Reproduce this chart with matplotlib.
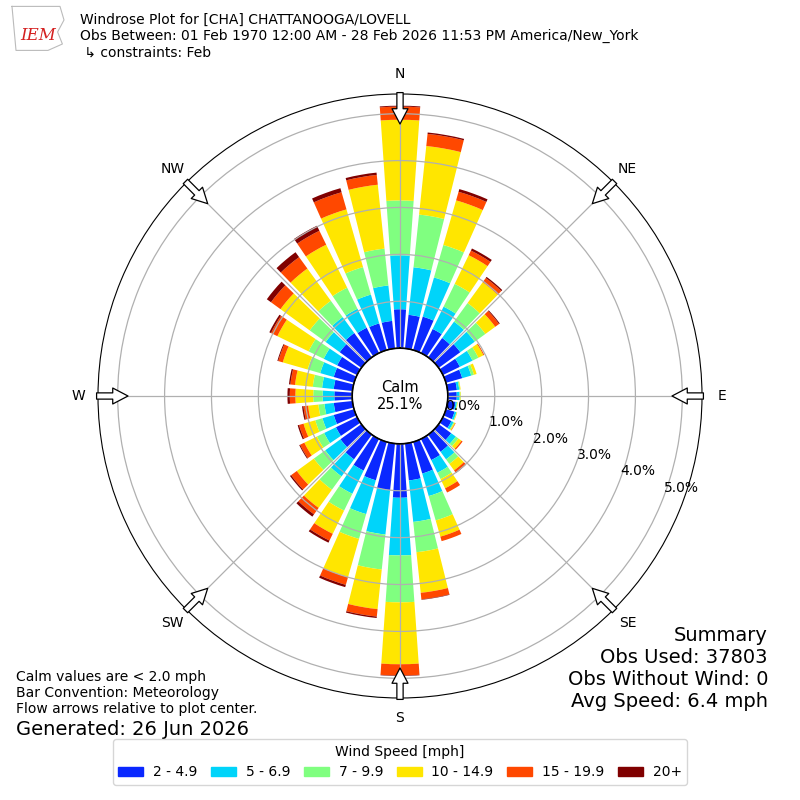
import numpy as np
import matplotlib
matplotlib.use("Agg")
import matplotlib.pyplot as plt
from matplotlib.patches import Patch

# ------------------ DATA (percent of obs, per 10 deg direction) ------------------
directions = np.arange(0, 360, 10)
speed_bins = ['2 - 4.9', '5 - 6.9', '7 - 9.9', '10 - 14.9', '15 - 19.9', '20+']
bin_colors = ['#0a28ff', '#00d4fa', '#80ff80', '#ffe600', '#ff4800', '#800000']

s_2_5 = [0.83, 0.72, 0.74, 0.57, 0.51, 0.57, 0.40, 0.36, 0.20, 0.19, 0.17, 0.19,
         0.20, 0.33, 0.45, 0.50, 0.70, 0.79, 1.15, 1.00, 0.85, 0.75, 0.65, 0.55,
         0.50, 0.45, 0.40, 0.38, 0.40, 0.45, 0.47, 0.57, 0.64, 0.60, 0.59, 0.59]
s_5_7 = [1.15, 1.02, 0.87, 0.53, 0.43, 0.38, 0.30, 0.20, 0.05, 0.06, 0.03, 0.04,
         0.05, 0.12, 0.20, 0.30, 0.50, 0.89, 1.23, 0.95, 0.75, 0.55, 0.45, 0.40,
         0.28, 0.25, 0.20, 0.25, 0.25, 0.30, 0.32, 0.37, 0.42, 0.45, 0.64, 0.76]
s_7_10 = [1.17, 1.13, 0.72, 0.54, 0.49, 0.28, 0.14, 0.06, 0.02, 0.02, 0.01, 0.01,
          0.02, 0.07, 0.12, 0.15, 0.54, 0.65, 1.00, 0.75, 0.55, 0.40, 0.35, 0.30,
          0.17, 0.16, 0.13, 0.20, 0.20, 0.28, 0.36, 0.42, 0.43, 0.50, 0.61, 0.79]
s_10_15 = [1.72, 1.47, 0.99, 0.68, 0.55, 0.26, 0.12, 0.06, 0.01, 0.01, 0.01, 0.01,
           0.02, 0.08, 0.17, 0.22, 0.36, 0.87, 1.32, 0.85, 0.85, 0.55, 0.48, 0.45,
           0.30, 0.26, 0.22, 0.38, 0.38, 0.55, 0.74, 0.77, 0.85, 1.02, 1.28, 1.37]
s_15_20 = [0.28, 0.26, 0.19, 0.11, 0.11, 0.10, 0.02, 0.00, 0.00, 0.00, 0.00, 0.00,
           0.01, 0.03, 0.06, 0.10, 0.10, 0.14, 0.24, 0.16, 0.17, 0.16, 0.17, 0.15,
           0.10, 0.10, 0.10, 0.12, 0.10, 0.10, 0.15, 0.25, 0.30, 0.33, 0.38, 0.21]
s_20_up = [0.02, 0.03, 0.06, 0.05, 0.03, 0.02, 0.00, 0.00, 0.00, 0.00, 0.00, 0.00,
           0.00, 0.00, 0.01, 0.00, 0.00, 0.01, 0.01, 0.03, 0.05, 0.05, 0.06, 0.03,
           0.02, 0.03, 0.03, 0.05, 0.03, 0.02, 0.04, 0.11, 0.13, 0.12, 0.09, 0.05]
series = [s_2_5, s_5_7, s_7_10, s_10_15, s_15_20, s_20_up]

calm_pct = 25.1
rticks = [0, 1, 2, 3, 4, 5]
compass = ['N', 'NE', 'E', 'SE', 'S', 'SW', 'W', 'NW']

title = ("Windrose Plot for [CHA] CHATTANOOGA/LOVELL\n"
         "Obs Between: 01 Feb 1970 12:00 AM - 28 Feb 2026 11:53 PM America/New_York\n"
         " \u21b3 constraints: Feb")
notes = ("Calm values are < 2.0 mph\nBar Convention: Meteorology\n"
         "Flow arrows relative to plot center.")
generated = "Generated: 26 Jun 2026"
summary = "Summary\nObs Used: 37803\nObs Without Wind: 0\nAvg Speed: 6.4 mph"

# ------------------ FIGURE ------------------
fig = plt.figure(figsize=(8, 8), dpi=100)
ax = fig.add_axes([0.1225, 0.1275, 0.755, 0.755], projection='polar')
ax.set_theta_zero_location('N')
ax.set_theta_direction(-1)
ax.set_rorigin(-1.02)
ax.set_ylim(0, 5.42)

theta = np.deg2rad(directions)
width = np.deg2rad(8)
bottom = np.zeros(len(directions))
for vals, col, lab in zip(series, bin_colors, speed_bins):
    vals = np.array(vals)
    ax.bar(theta, vals, width=width, bottom=bottom, color=col,
           linewidth=0, label=lab, zorder=2)
    bottom = bottom + vals

# grid
ax.set_axisbelow(False)
ax.set_xticks(np.deg2rad(np.arange(0, 360, 45)))
ax.set_xticklabels([])
ax.set_yticks(rticks)
ax.set_yticklabels([f"{t:.1f}%" for t in rticks], fontsize=10)
ax.set_rlabel_position(110.5)
ax.grid(True, color='#b0b0b0', linewidth=0.9)
ax.spines['polar'].set_color('black')

# calm circle
tt = np.linspace(0, 2 * np.pi, 361)
ax.plot(tt, np.zeros_like(tt), color='black', lw=1.2, clip_on=False, zorder=5)
ax.text(0.5, 0.5, f"Calm\n{calm_pct}%", transform=ax.transAxes,
        ha='center', va='center', fontsize=10.5, zorder=6)

# direction labels + flow arrows
for i, lab in enumerate(compass):
    ang = np.deg2rad(i * 45)
    ax.text(ang, 5.84, lab, ha='center', va='center', fontsize=10, clip_on=False)
    ax.annotate('', xy=(ang, 4.78), xytext=(ang, 5.45), annotation_clip=False,
                arrowprops=dict(arrowstyle='simple,head_length=1.1,head_width=1.15,tail_width=0.45',
                                fc='white', ec='black', lw=0.9, shrinkA=0, shrinkB=0),
                zorder=7)

# header
fig.text(0.1, 0.984, title, ha='left', va='top', fontsize=10, linespacing=1.2)
fig.text(0.048, 0.955, 'IEM', ha='center', va='center', fontsize=12,
         color='#d42020', family='serif', style='italic')
lx = [0.015, 0.075, 0.08, 0.072, 0.078, 0.06, 0.02, 0.015]
ly = [0.992, 0.992, 0.975, 0.96, 0.945, 0.937, 0.937, 0.992]
fig.add_artist(plt.Line2D(lx, ly, color='#bbbbbb', lw=0.8, transform=fig.transFigure))

# footer texts
fig.text(0.02, 0.163, notes, ha='left', va='top', fontsize=10, linespacing=1.2)
fig.text(0.02, 0.088, generated, ha='left', va='center', fontsize=14)
fig.text(0.96, 0.218, summary, ha='right', va='top', fontsize=14, linespacing=1.2)

handles = [Patch(color=c, label=l) for c, l in zip(bin_colors, speed_bins)]
fig.legend(handles=handles, loc='lower center', bbox_to_anchor=(0.5, 0.01),
           ncol=6, fontsize=10, title='Wind Speed [mph]', title_fontsize=10,
           handlelength=1.8, handleheight=0.55, handletextpad=0.7,
           columnspacing=0.98)

fig.savefig('out.png', dpi=100)
